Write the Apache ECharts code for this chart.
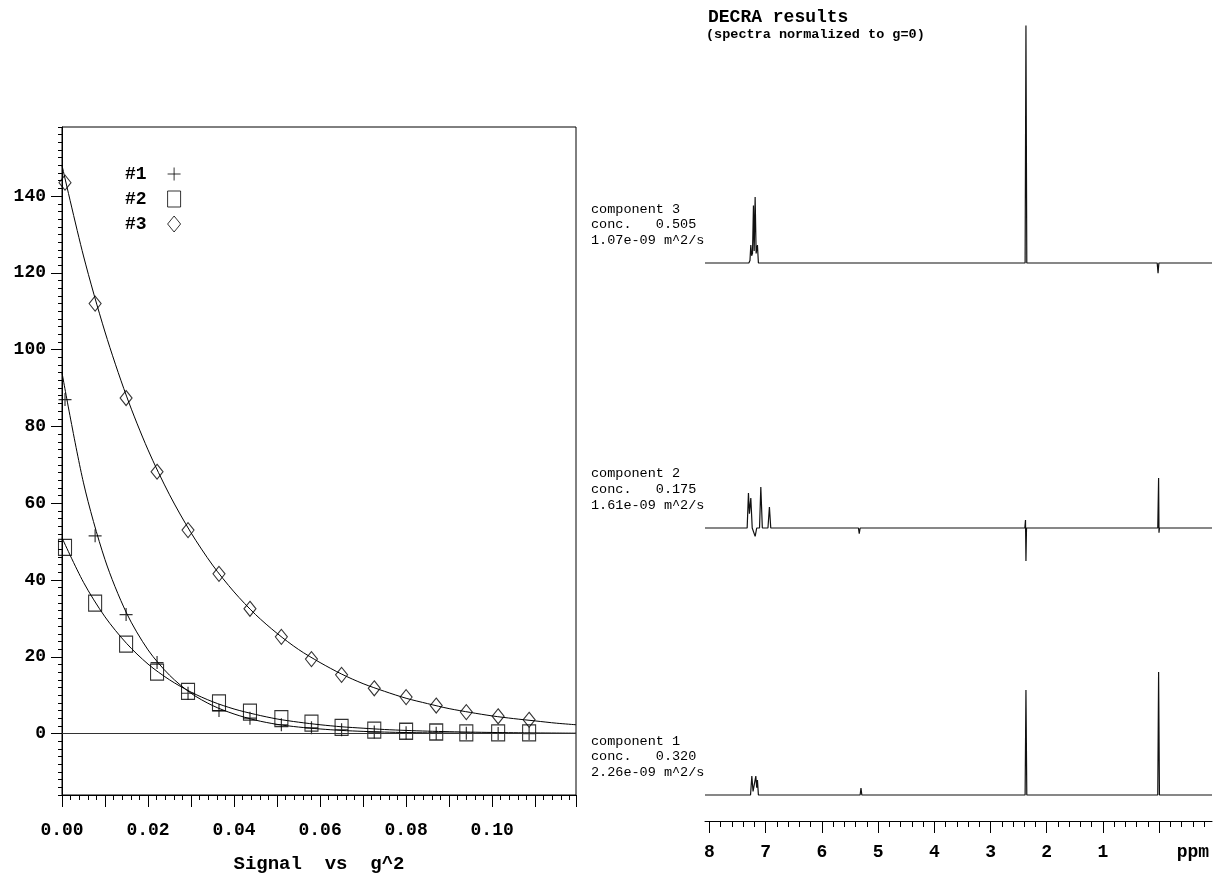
<!DOCTYPE html>
<html><head><meta charset="utf-8">
<script src="https://cdn.jsdelivr.net/npm/echarts@6/dist/echarts.min.js"></script>
<style>html,body{margin:0;padding:0;background:#fff}#c{width:1214px;height:874px}</style>
</head><body><div id="c"></div>
<script>
// ---- Left panel: signal vs g^2 ----
const gSquared = [0.0007, 0.0077, 0.0149, 0.0221, 0.0293, 0.0365, 0.0437, 0.0510, 0.0580, 0.0650, 0.0726, 0.0800, 0.0870, 0.0940, 0.1014, 0.1086];
const signal1 = [87, 51.5, 31, 18.5, 10.5, 6, 4, 2.3, 1.5, 1.0, 0.4, 0.2, 0.1, 0.1, 0.05, 0];
const signal2 = [48.5, 34, 23.3, 16, 11, 8, 5.6, 3.9, 2.7, 1.6, 0.9, 0.6, 0.4, 0.2, 0.2, 0.2];
const signal3 = [143.5, 112, 87.4, 68.2, 53, 41.6, 32.5, 25.2, 19.4, 15.3, 11.8, 9.5, 7.3, 5.6, 4.5, 3.6];
const fitX = [0, 0.005, 0.01, 0.015, 0.02, 0.025, 0.03, 0.035, 0.04, 0.045, 0.05, 0.055, 0.06, 0.065, 0.07, 0.075, 0.08, 0.085, 0.09, 0.095, 0.10, 0.105, 0.11, 0.115, 0.1195];
const fit1 = [94, 65.3, 45.3, 31.4, 21.8, 15.2, 10.5, 7.3, 5.1, 3.5, 2.4, 1.7, 1.2, 0.82, 0.57, 0.39, 0.27, 0.19, 0.13, 0.09, 0.06, 0.04, 0.03, 0.02, 0.02];
const fit2 = [51, 39.4, 30.4, 23.5, 18.1, 14.0, 10.8, 8.3, 6.4, 4.98, 3.8, 2.97, 2.3, 1.77, 1.4, 1.06, 0.82, 0.63, 0.49, 0.38, 0.29, 0.22, 0.17, 0.13, 0.1];
const fit3 = [148, 124.4, 104.6, 87.9, 73.9, 62.2, 52.3, 43.9, 36.9, 31.0, 26.1, 21.9, 18.5, 15.5, 13.0, 11.0, 9.2, 7.8, 6.5, 5.5, 4.6, 3.9, 3.3, 2.7, 2.3];
const legendNames = ['#1', '#2', '#3'];
const yLabelValues = [0, 20, 40, 60, 80, 100, 120, 140];

// ---- Right panel: DECRA spectra ----
const ppm3 = [8.08, 7.30, 7.28, 7.265, 7.25, 7.235, 7.218, 7.205, 7.188, 7.17, 7.147, 7.13, 2.385, 2.37, 2.355, 0.035, 0.02, 0.005, -0.94];
const int3 = [0, 0, 1, 7.5, 3, 4, 24, 5, 27.5, 4, 7.5, 0, 0, 99, 0, 0, -4.2, 0, 0];
const ppm2 = [8.08, 7.33, 7.307, 7.29, 7.265, 7.24, 7.21, 7.188, 7.16, 7.11, 7.087, 7.06, 6.96, 6.934, 6.91, 5.35, 5.336, 5.32, 2.39, 2.378, 2.37, 2.36, 0.025, 0.01, 0.003, -0.005, -0.94];
const int2 = [0, 0, 14.6, 6, 12.5, 0, 0, -3.5, 0, 0, 17.1, 0, 0, 8.75, 0, 0, -2.4, 0, 0, 3.3, -13.7, 0, 0, 20.8, -2, 0, 0];
const ppm1 = [8.08, 7.27, 7.247, 7.225, 7.2, 7.176, 7.16, 7.147, 7.13, 5.82, 5.80, 5.78, 5.32, 5.305, 5.29, 2.385, 2.37, 2.355, 0.025, 0.01, -0.005, -0.94];
const int1 = [0, 0, 7.9, 1.5, 1.5, 7.9, 3, 6.2, 0, 0, 0.4, 0, 0, 2.9, 0, 0, 43.75, 0, 0, 51.25, 0, 0];
const ppmMajorTicks = [8, 7, 6, 5, 4, 3, 2, 1, 0];
const ppmLabelValues = [8, 7, 6, 5, 4, 3, 2, 1, -0.6];
const ppmMinorTicks = [7.8, 7.6, 7.4, 7.2, 6.8, 6.6, 6.4, 6.2, 5.8, 5.6, 5.4, 5.2, 4.8, 4.6, 4.4, 4.2, 3.8, 3.6, 3.4, 3.2, 2.8, 2.6, 2.4, 2.2, 1.8, 1.6, 1.4, 1.2, 0.8, 0.6, 0.4, 0.2, -0.2, -0.4, -0.6, -0.8];
const compLabels = [
  'component 3\nconc.   0.505\n1.07e-09 m^2/s',
  'component 2\nconc.   0.175\n1.61e-09 m^2/s',
  'component 1\nconc.   0.320\n2.26e-09 m^2/s'
];

const zip = (a, b) => a.map((v, i) => [v, b[i]]);
const MONO = '"Liberation Mono", "DejaVu Sans Mono", monospace';
const black = '#000';

const chart = echarts.init(document.getElementById('c'), null, {renderer: 'canvas'});
const hiddenX = (gi) => ({type: 'value', gridIndex: gi, min: -0.94, max: 8.08, inverse: true, show: false, splitLine: {show: false}});
const hiddenY = (gi, mn, mx) => ({type: 'value', gridIndex: gi, min: mn, max: mx, show: false, splitLine: {show: false}});
const fitLine = (name, ys) => ({type: 'line', name, xAxisIndex: 0, yAxisIndex: 0, data: zip(fitX, ys), smooth: 0.3, showSymbol: false, silent: true, lineStyle: {color: black, width: 1}});

const option = {
  animation: false,
  backgroundColor: '#fff',
  grid: [
    {left: 62, top: 127, width: 514, height: 668, show: true, borderColor: black, borderWidth: 1, backgroundColor: 'transparent', outerBoundsMode: 'none', containLabel: false},
    {left: 705, right: 2, top: 23, height: 264, outerBoundsMode: 'none', containLabel: false},
    {left: 705, right: 2, top: 408, height: 168, outerBoundsMode: 'none', containLabel: false},
    {left: 705, right: 2, top: 651, height: 170, outerBoundsMode: 'none', containLabel: false}
  ],
  legend: {
    data: [
      {name: legendNames[0], icon: 'path://M6,0L6,12M0,6L12,6'},
      {name: legendNames[1], icon: 'rect'},
      {name: legendNames[2], icon: 'diamond'}
    ],
    orient: 'vertical', left: 125, top: 165, align: 'right', padding: 0,
    itemWidth: 13, itemHeight: 16, itemGap: 7,
    itemStyle: {color: 'transparent', borderColor: black, borderWidth: 1},
    formatter: n => '{a|' + n + '}',
    textStyle: {color: black, rich: {a: {fontFamily: MONO, fontWeight: 'bold', fontSize: 18, color: black, padding: [0, 16, 0, 0]}}},
    selectedMode: false
  },
  xAxis: [
    {
      type: 'value', gridIndex: 0, min: 0, max: 0.1195, interval: 0.01, position: 'bottom',
      axisLine: {onZero: false, lineStyle: {color: black, width: 1}},
      axisTick: {show: true, length: 12, lineStyle: {color: black}},
      minorTick: {show: true, splitNumber: 5, length: 5, lineStyle: {color: black}},
      splitLine: {show: false}, minorSplitLine: {show: false},
      axisLabel: {
        margin: 26, color: black, fontFamily: MONO, fontWeight: 'bold', fontSize: 18, showMaxLabel: false,
        formatter: v => { const k = Math.round(v * 100); return (Math.abs(v * 100 - k) < 1e-6 && k % 2 === 0) ? v.toFixed(2) : ''; }
      },
      name: 'Signal  vs  g^2', nameLocation: 'middle', nameGap: 60,
      nameTextStyle: {color: black, fontFamily: MONO, fontWeight: 'bold', fontSize: 19}
    },
    hiddenX(1),
    hiddenX(2),
    {
      type: 'value', gridIndex: 3, min: -0.94, max: 8.08, inverse: true, position: 'bottom',
      axisLine: {onZero: false, lineStyle: {color: black, width: 1}},
      axisTick: {show: true, length: 12, customValues: ppmMajorTicks, lineStyle: {color: black}},
      splitLine: {show: false},
      axisLabel: {
        customValues: ppmLabelValues, margin: 22, color: black, fontFamily: MONO, fontWeight: 'bold', fontSize: 18,
        formatter: v => (v < 0 ? 'ppm' : String(v))
      }
    },
    {
      type: 'value', gridIndex: 3, min: -0.94, max: 8.08, inverse: true, position: 'bottom',
      axisLine: {show: false, onZero: false},
      axisTick: {show: true, length: 6, customValues: ppmMinorTicks, lineStyle: {color: black}},
      axisLabel: {show: false}, splitLine: {show: false}
    }
  ],
  yAxis: [
    {
      type: 'value', gridIndex: 0, min: -16, max: 158, interval: 2, position: 'left',
      axisLine: {show: true, onZero: false, lineStyle: {color: black, width: 1}},
      axisTick: {show: true, length: 4, lineStyle: {color: black}},
      axisLabel: {show: false}, splitLine: {show: false}
    },
    {
      type: 'value', gridIndex: 0, min: -16, max: 158, position: 'left',
      axisLine: {show: false, onZero: false},
      axisTick: {show: true, length: 11, customValues: yLabelValues, lineStyle: {color: black}},
      axisLabel: {customValues: yLabelValues, margin: 16, color: black, fontFamily: MONO, fontWeight: 'bold', fontSize: 18},
      splitLine: {show: false}
    },
    hiddenY(1, -10, 100),
    hiddenY(2, -20, 50),
    hiddenY(3, -10.83, 60)
  ],
  graphic: [
    {type: 'text', x: 708, y: 17, style: {text: 'DECRA results', font: 'bold 18px ' + MONO, fill: black, verticalAlign: 'middle'}},
    {type: 'text', x: 706, y: 35, style: {text: '(spectra normalized to g=0)', font: 'bold 13.5px ' + MONO, fill: black, verticalAlign: 'middle'}},
    {type: 'text', x: 591, y: 202, style: {text: compLabels[0], font: '13.5px ' + MONO, fill: black, verticalAlign: 'top', lineHeight: 15.2}},
    {type: 'text', x: 591, y: 466, style: {text: compLabels[1], font: '13.5px ' + MONO, fill: black, verticalAlign: 'top', lineHeight: 15.6}},
    {type: 'text', x: 591, y: 734, style: {text: compLabels[2], font: '13.5px ' + MONO, fill: black, verticalAlign: 'top', lineHeight: 15.2}}
  ],
  series: [
    Object.assign(fitLine('fit1', fit1), {
      markLine: {silent: true, symbol: ['none', 'none'], label: {show: false}, lineStyle: {color: '#333', width: 1, type: 'solid'}, data: [{yAxis: 0}]}
    }),
    fitLine('fit2', fit2),
    fitLine('fit3', fit3),
    {type: 'scatter', name: legendNames[0], xAxisIndex: 0, yAxisIndex: 0, data: zip(gSquared, signal1), symbol: 'path://M6,0L6,12M0,6L12,6', symbolSize: 13,
      itemStyle: {color: 'transparent', borderColor: black, borderWidth: 1.2}},
    {type: 'scatter', name: legendNames[1], xAxisIndex: 0, yAxisIndex: 0, data: zip(gSquared, signal2), symbol: 'rect', symbolSize: [13, 16],
      itemStyle: {color: 'transparent', borderColor: black, borderWidth: 1.2}},
    {type: 'scatter', name: legendNames[2], xAxisIndex: 0, yAxisIndex: 0, data: zip(gSquared, signal3), symbol: 'diamond', symbolSize: [12, 15],
      itemStyle: {color: 'transparent', borderColor: black, borderWidth: 1.1}},
    {type: 'line', name: 'component 3', xAxisIndex: 1, yAxisIndex: 2, data: zip(ppm3, int3), showSymbol: false, silent: true, lineStyle: {color: '#111', width: 1.2}},
    {type: 'line', name: 'component 2', xAxisIndex: 2, yAxisIndex: 3, data: zip(ppm2, int2), showSymbol: false, silent: true, lineStyle: {color: '#111', width: 1.2}},
    {type: 'line', name: 'component 1', xAxisIndex: 3, yAxisIndex: 4, data: zip(ppm1, int1), showSymbol: false, silent: true, lineStyle: {color: '#111', width: 1.2}}
  ]
};
chart.setOption(option);
</script>
</body></html>
